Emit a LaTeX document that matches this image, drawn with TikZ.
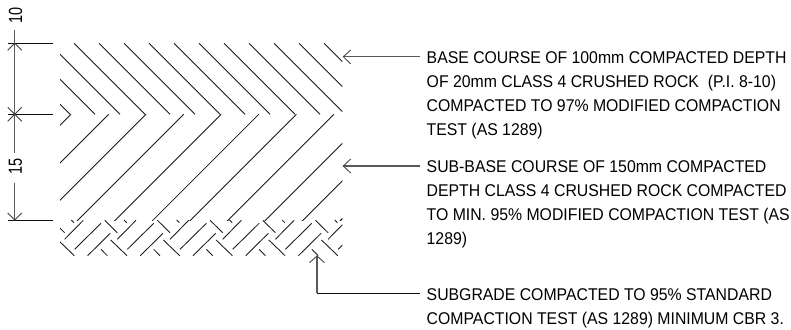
\documentclass[tikz,border=0pt]{standalone}
\usepackage{fontspec}
\setmainfont[FakeStretch=0.93]{Liberation Sans}
\newfontfamily\dimfont[FakeStretch=0.76]{Liberation Sans}
\tikzset{
  hatch/.style={draw=black!90,line width=0.85pt},
  dimline/.style={draw=black!65,line width=1.2pt},
  leader/.style={draw=black!65,line width=1.5pt},
  thinline/.style={draw=black!95,line width=1pt},
  barb/.style={draw=black!75,line width=0.85pt},
  note/.style={anchor=base west,inner sep=0pt,align=left,font=\fontsize{17}{24}\selectfont},
  dimtext/.style={rotate=90,inner sep=0pt,font=\dimfont\fontsize{19}{24}\selectfont}
}
\begin{document}
\begin{tikzpicture}[x=1pt,y=-1pt]
\useasboundingbox (0,0) rectangle (791,329);
\fill[white] (0,0) rectangle (791,329);
% upper hatch: chevrons of the base course and sub-base
\begin{scope}
\clip (60,43.3) rectangle (342.3,220);
\foreach \s in {-1,24,49,74,99,124,149,174,199,224,249,274,299,324}
  \draw[hatch] (\s,43.3) -- ++(71,71);
\foreach \t in {71,108.6,146,183.6,221.2,258.8,296.4,334,371.5,409,446.6,484.2,521.8}
  \draw[hatch] (\t,114.3) -- ++(-125,125);
\end{scope}
% herringbone subgrade
\begin{scope}
\clip (60,218) rectangle (342.3,256);
\foreach \i in {-1,0,1,2,3,4}{
  \begin{scope}[xshift=\i*52.7pt]
    \draw[hatch] (104.7,220.3) -- (117.3,232.7);
    \draw[hatch] (136,220.3) -- (117.3,239.3);
    \draw[hatch] (153.7,223.3) -- (127.3,249.3);
    \draw[hatch] (163,233.3) -- (140.3,255.7);
    \draw[hatch] (110.7,240) -- (127,255.7);
    \draw[hatch] (101,249.3) -- (107.3,255.7);
    \draw[hatch] (124,220) -- (126.7,222.7);
  \end{scope}
}
\draw[hatch] (342.3,218.7) -- (340.3,220.7);
\end{scope}
% dimension
\coordinate (d0) at (14.7,30);
\coordinate (d1) at (14.7,43.3);
\coordinate (d2) at (14.7,114.3);
\coordinate (d3) at (14.7,153);
\coordinate (d4) at (14.7,182.7);
\coordinate (d5) at (14.7,220);
\draw[dimline] (d0) -- (d3);
\draw[dimline] (d4) -- (d5);
\coordinate (e1) at (53,43.3);
\coordinate (e2) at (53,114.3);
\coordinate (e3) at (53,220);
\coordinate (s1) at (8,43.3);
\coordinate (s2) at (8,114.3);
\coordinate (s3) at (8,220);
\draw[thinline] (s1) -- (e1);
\draw[thinline] (s2) -- (e2);
\draw[thinline] (s3) -- (e3);
\draw[barb] (7.7,50.3) -- (d1) -- (21.7,50.3);
\draw[barb] (7.7,107.3) -- (21.7,121.3);
\draw[barb] (7.7,121.3) -- (21.7,107.3);
\draw[barb] (7.7,213) -- (d5) -- (21.7,213);
\node[dimtext] (t10) at (15.5,15) {10};
\node[dimtext] (t15) at (15.5,166.5) {15};
% notes
\node[note] (n1) at (426.5,135.5) {BASE COURSE OF 100mm COMPACTED DEPTH\\OF 20mm CLASS 4 CRUSHED ROCK\ \ (P.I. 8-10)\\COMPACTED TO 97\% MODIFIED COMPACTION\\TEST (AS 1289)};
\node[note] (n2) at (426.5,244.7) {SUB-BASE COURSE OF 150mm COMPACTED\\DEPTH CLASS 4 CRUSHED ROCK COMPACTED\\TO MIN. 95\% MODIFIED COMPACTION TEST (AS\\1289)};
\node[note] (n3) at (426.5,324) {SUBGRADE COMPACTED TO 95\% STANDARD\\COMPACTION TEST (AS 1289) MINIMUM CBR 3.};
% leaders
\coordinate (a1) at (343.3,56.7);
\coordinate (b1) at (420,56.7);
\coordinate (a2) at (343.3,166);
\coordinate (b2) at (420,166);
\coordinate (a3) at (317,256);
\coordinate (c3) at (317,293);
\coordinate (b3) at (420,293);
\draw[leader] (a1) -- (b1);
\draw[leader] (a2) -- (b2);
\draw[leader] (a3) -- (c3);
\draw[thinline] (c3) -- (b3);
\draw[barb] (350.7,50) -- (a1) -- (350.7,64);
\draw[barb] (350.7,159) -- (a2) -- (350.7,173);
\draw[barb] (309.5,262.7) -- (a3) -- (324.5,262.7);
\end{tikzpicture}
\end{document}
